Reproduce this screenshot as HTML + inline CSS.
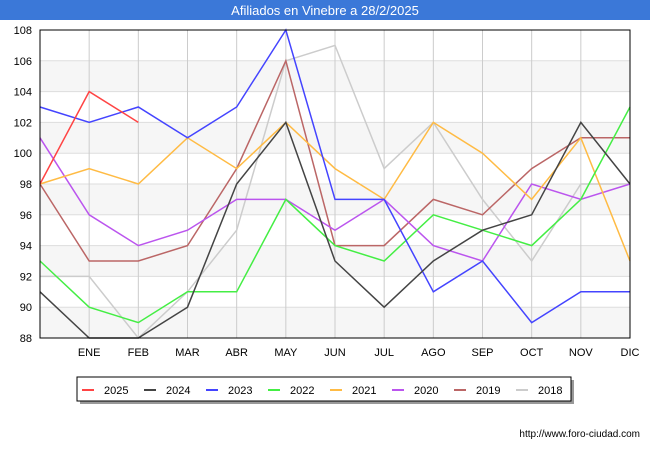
<!DOCTYPE html>
<html><head><meta charset="utf-8"><style>
body{margin:0;width:650px;height:450px;background:#fff;font-family:"Liberation Sans",sans-serif;overflow:hidden}
svg text{font-family:"Liberation Sans",sans-serif}
</style></head><body>
<svg id="c" width="650" height="450">
<rect x="0" y="0" width="650" height="20" fill="#3b78d8"/>
<text x="325" y="15" text-anchor="middle" fill="#fff" font-size="13">Afiliados en Vinebre a 28/2/2025</text>
<g id="grid"></g><g id="series"></g>
<rect x="40" y="30" width="590" height="308" fill="none" stroke="#000" stroke-width="1"/>
<rect x="80" y="380" width="494" height="24" fill="#999"/>
<rect x="77" y="377" width="494" height="24" fill="#fff" stroke="#000"/>
<g id="legend"></g>
<text x="640" y="437" text-anchor="end" font-size="10" fill="#000">http://www.foro-ciudad.com</text>
</svg>
<script>
const months=["","ENE","FEB","MAR","ABR","MAY","JUN","JUL","AGO","SEP","OCT","NOV","DIC"];
const yTicks=[88,90,92,94,96,98,100,102,104,106,108];
const years=["2025","2024","2023","2022","2021","2020","2019","2018"];
const colors=["#ff4444","#444444","#4444ff","#44ee44","#ffbb44","#bb55ee","#bb6666","#cccccc"];
const s2025=[98,104,102];
const s2024=[91,88,88,90,98,102,93,90,93,95,96,102,98];
const s2023=[103,102,103,101,103,108,97,97,91,93,89,91,91];
const s2022=[93,90,89,91,91,97,94,93,96,95,94,97,103];
const s2021=[98,99,98,101,99,102,99,97,102,100,97,101,93];
const s2020=[101,96,94,95,97,97,95,97,94,93,98,97,98];
const s2019=[98,93,93,94,99,106,94,94,97,96,99,101,101];
const s2018=[92,92,88,91,95,106,107,99,102,97,93,98,98];
const all=[s2025,s2024,s2023,s2022,s2021,s2020,s2019,s2018];
const NS="http://www.w3.org/2000/svg";
const x0=40,x1=630,y0=338,y1=30,ymin=88,ymax=108;
const xs=i=>x0+i*(x1-x0)/(months.length-1);
const ys=v=>y0-(v-ymin)*(y0-y1)/(ymax-ymin);
function mk(t,a,p){const e=document.createElementNS(NS,t);for(const k in a)e.setAttribute(k,a[k]);p.appendChild(e);return e;}
const g=document.getElementById('grid');
for(let i=0;i<yTicks.length-1;i++){if(i%2==0){const r=mk('rect',{x:x0,y:ys(yTicks[i+1]),width:x1-x0,height:ys(yTicks[i])-ys(yTicks[i+1]),fill:'#f6f6f6'},g);

}}
yTicks.forEach(v=>{const l=mk('line',{x1:x0,x2:x1,y1:ys(v),y2:ys(v),stroke:'#ddd'},g);


const t=mk('text',{x:32,y:ys(v)+4,'text-anchor':'end','font-size':11},g);t.textContent=v;

});
months.forEach((m,i)=>{if(i==0)return;const l=mk('line',{x1:xs(i),x2:xs(i),y1:y1,y2:y0,stroke:'#ccc'},g);


const t=mk('text',{x:xs(i),y:356,'text-anchor':'middle','font-size':11},g);t.textContent=m;

});
const sg=document.getElementById('series');
for(let k=all.length-1;k>=0;k--){const p=mk('polyline',{points:all[k].map((v,i)=>xs(i)+','+ys(v)).join(' '),fill:'none',stroke:colors[k],'stroke-width':1.5},sg);

}
const lg=document.getElementById('legend');
years.forEach((y,k)=>{const bx=82+k*62;
const l=mk('line',{x1:bx,x2:bx+12,y1:390,y2:390,stroke:colors[k],'stroke-width':2},lg);


const t=mk('text',{x:bx+22,y:394,'font-size':11},lg);t.textContent=y;

});
</script>
</body></html>
